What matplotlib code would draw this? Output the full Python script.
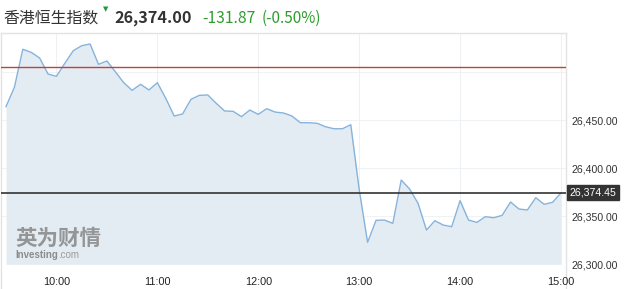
import matplotlib.pyplot as plt

# 恒生指数 5分钟走势 (09:30 - 15:00)
prices = [26464.2, 26484.4, 26524.0, 26520.8, 26514.9, 26498.2, 26495.8, 26509.4,
          26522.5, 26527.7, 26529.5, 26508.3, 26511.8, 26500.6, 26489.2, 26481.2,
          26487.5, 26481.6, 26489.2, 26472.9, 26454.5, 26456.6, 26471.9, 26476.0,
          26476.4, 26467.7, 26459.7, 26459.4, 26453.8, 26460.7, 26456.2, 26462.1,
          26458.6, 26457.6, 26454.5, 26447.5, 26447.5, 26446.9, 26443.3, 26441.2,
          26441.2, 26445.4, 26378.0, 26322.9, 26345.8, 26346.1, 26342.7, 26387.8,
          26378.4, 26363.5, 26335.7, 26345.4, 26340.9, 26339.2, 26366.3, 26346.1,
          26343.7, 26349.6, 26348.5, 26351.0, 26364.9, 26357.6, 26356.6, 26369.4,
          26362.5, 26364.6, 26374.45]
start_hour = 9.5
step_min = 5
times = [start_hour + i * step_min / 60 for i in range(len(prices))]

prev_close = 26505.87
last_price = 26374.45
yticks = [26300, 26350, 26400, 26450]
grid_y = [26350, 26400, 26450, 26500]
hours = [10, 11, 12, 13, 14, 15]
hour_labels = ['10:00', '11:00', '12:00', '13:00', '14:00', '15:00']

title = '香港恒生指数'
price_txt = '26,374.00'
chg_txt = '-131.87'
pct_txt = '(-0.50%)'

plt.rcParams['font.family'] = ['Liberation Sans', 'DejaVu Sans']
green = '#2f9e2f'

fig = plt.figure(figsize=(6.31, 2.89), dpi=100)
W, H = 631, 289
ax = fig.add_axes([1.3 / W, 0, (566 - 1.3) / W, (H - 32.7) / H])

ymin, ymax = 26274.3, 26541.25
ax.set_xlim(9.4535, 15.0495)
ax.set_ylim(ymin, ymax)

# 网格
for g in grid_y:
    ax.axhline(g, color='#f0f2f4', lw=0.8, zorder=0)
for h in hours:
    ax.vlines(h, 26300, ymax, color='#eef1f4', lw=0.8, zorder=0)

# 填充区域 + 走势线
ax.fill_between(times, prices, 26300, color='#e4ecf3', lw=0, zorder=1)
ax.plot(times, prices, color='#86b3dc', lw=1.0, zorder=3)

# 昨收线 和 最新价线
ax.axhline(prev_close, color='#c0433a', lw=1.0, zorder=4)
ax.axhline(last_price, color='#333333', lw=1.2, zorder=4)

for s in ['top', 'left', 'right']:
    ax.spines[s].set_color('#e3e3e3')
    ax.spines[s].set_linewidth(1.0)
ax.spines['bottom'].set_visible(False)

ax.set_xticks([])
ax.yaxis.tick_right()
ax.set_yticks(yticks)
ax.set_yticklabels(['{:,.2f}'.format(v) for v in yticks])
ax.tick_params(axis='y', length=0, pad=4, labelsize=7.6, labelcolor='#333333')

# x轴时间标签 (放在图框内部)
for h, lab in zip(hours, hour_labels):
    ax.text(h, 26282.0, lab, ha='center', va='center', fontsize=7.8, color='#222222')

# 最新价标签
ax.annotate('{:,.2f}'.format(last_price), xy=(1.0, last_price),
            xycoords=('axes fraction', 'data'), xytext=(2.5, 0), textcoords='offset points',
            ha='left', va='center', fontsize=7.6, color='white',
            bbox=dict(boxstyle='square,pad=0.25', fc='#333333', ec='#333333'),
            annotation_clip=False)

# 水印
fig.text(15 / W, 1 - 238 / H, '英为财情', fontsize=15.5, fontweight='bold',
         color='#8c8c8c', family=['Noto Sans CJK SC'], va='center', ha='left', alpha=0.9)
inv = fig.text(15 / W, 1 - 254.5 / H, 'Investing', fontsize=7, fontweight='bold',
               color='#8c8c8c', va='center', ha='left')
# .com 紧跟在 Investing 后面
ax.annotate('.com', xy=(1.0, 0.5), xycoords=inv, xytext=(0.5, 0),
            textcoords='offset points', fontsize=7, color='#9a9a9a',
            va='center', ha='left', annotation_clip=False)

# 标题栏
cjk = ['Noto Sans CJK SC', 'DejaVu Sans']
fig.text(3 / W, 1 - 18 / H, title, fontsize=11.4, color='#333333', family=cjk,
         va='center', ha='left')
fig.text(106 / W, 1 - 9 / H, '▼', fontsize=5, color='#1f9a3a', family=['DejaVu Sans'],
         va='center', ha='center')
fig.text(114 / W, 1 - 18.5 / H, price_txt, fontsize=11.7, fontweight='bold', color='#333333',
         family=cjk, va='center', ha='left')
fig.text(202 / W, 1 - 18.5 / H, chg_txt, fontsize=11.3, color=green, family=cjk,
         va='center', ha='left')
fig.text(262 / W, 1 - 18.5 / H, pct_txt, fontsize=11, color=green, family=cjk,
         va='center', ha='left')

fig.savefig('out.png', dpi=100)
